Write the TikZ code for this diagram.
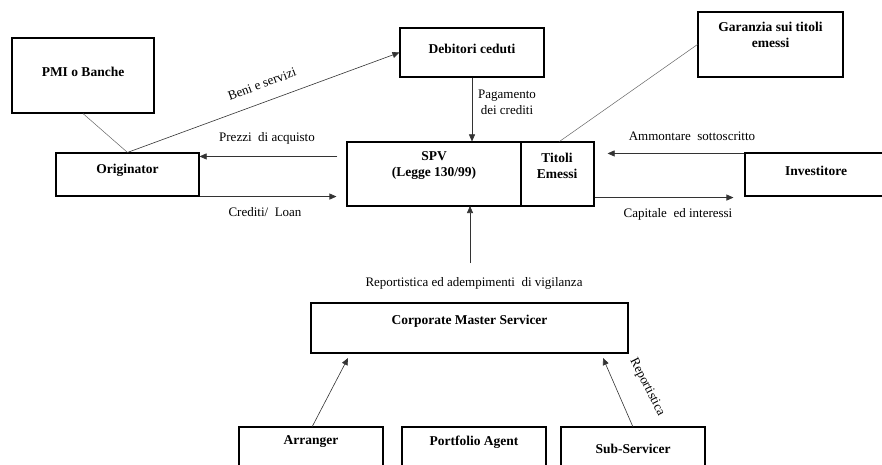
\documentclass[tikz,border=0pt]{standalone}
\usepackage{fontspec}
\setmainfont{Liberation Serif}
\usetikzlibrary{arrows.meta,calc}
\begin{document}
\begin{tikzpicture}[x=1pt,y=-1pt,
  box/.style={draw=black,line width=1.1pt,inner sep=0pt},
  bt/.style={font=\fontsize{13.5}{16}\selectfont\bfseries,align=center,inner sep=0pt},
  lt/.style={font=\fontsize{13}{16}\selectfont,align=center,inner sep=0pt},
  arr/.style={draw=black!80,line width=0.6pt,-{Triangle[length=7pt,width=6pt]}},
  ln/.style={draw=black!60,line width=0.5pt}]
\clip (0,0) rectangle (882,465);
\fill[white] (0,0) rectangle (882,465);
% boxes
\node[box,minimum width=142,minimum height=75] (pmi) at (83,75.5) {};
\node[box,minimum width=143,minimum height=43] (orig) at (127.5,174.5) {};
\node[box,minimum width=144,minimum height=49] (deb) at (472,52.5) {};
\node[box,minimum width=174,minimum height=64] (spv) at (434,174) {};
\node[box,minimum width=73,minimum height=64] (tit) at (557.5,174) {};
\node[box,minimum width=145,minimum height=65] (gar) at (770.5,44.5) {};
\node[box,minimum width=160,minimum height=43] (inv) at (825,174.5) {};
\node[box,minimum width=317,minimum height=50] (cms) at (469.5,328) {};
\node[box,minimum width=144,minimum height=63] (arr) at (311,458.5) {};
\node[box,minimum width=144,minimum height=63] (port) at (474,458.5) {};
\node[box,minimum width=144,minimum height=63] (sub) at (633,458.5) {};
% box texts
\node[bt] (tpmi) at (83,72) {PMI o Banche};
\node[bt] (torig) at (127.5,170) {Originator};
\node[bt] (tdeb) at (472,49) {Debitori ceduti};
\node[bt] (tspv) at (434,166) {SPV\\(Legge 130/99)};
\node[bt] (ttit) at (557,166) {Titoli\\Emessi};
\node[bt] (tgar) at (770.5,35) {Garanzia sui titoli\\emessi};
\node[bt] (tinv) at (816,171) {Investitore};
\node[bt] (tcms) at (469.5,321) {Corporate Master Servicer};
\node[bt] (tarr) at (311,442) {Arranger};
\node[bt] (tport) at (474,442) {Portfolio Agent};
\node[bt] (tsub) at (633,449) {Sub-Servicer};
% coordinates for free ends
\coordinate (pzA) at ($(spv.north west)+(-9,15)$);
\coordinate (crB) at ($(spv.south west)+(-10,-10)$);
\coordinate (amB) at ($(tit.north east)+(13,12)$);
\coordinate (caB) at ($(inv.south west)+(-11,1)$);
\coordinate (vg) at (470,263);
\coordinate (vgT) at (470,206);
\coordinate (arT) at (348,358);
\coordinate (arS) at (312,427);
\coordinate (suT) at (603,358);
\coordinate (suS) at (633,427);
% connectors
\draw[ln] (pmi.south) -- (orig.north);
\draw[arr] (orig.north) -- (deb.west);
\draw[arr] (pzA) -- (orig.east |- pzA);
\draw[arr] (orig.south east) -- (crB |- orig.south east);
\draw[arr] (deb.south) -- (spv.north -| deb.south);
\draw[ln] (gar.west) -- ($(tit.north)+(2,0)$);
\draw[arr] (inv.north west |- amB) -- (amB);
\draw[arr] (tit.south east |- caB) -- (caB);
\draw[arr] (vg) -- (vgT);
\draw[arr] (arS) -- (arT);
\draw[arr] (suS) -- (suT);
% labels
\node[lt,rotate=20] (lbeni) at (262,84) {Beni e servizi};
\node[lt] (lpz) at (267,138) {Prezzi\ \ di acquisto};
\node[lt] (lcr) at (265,212) {Crediti/\ \ Loan};
\node[lt] (lpag) at (507,102) {Pagamento\\dei crediti};
\node[lt] (lam) at (692,136) {Ammontare\ \ sottoscritto};
\node[lt] (lca) at (678,214) {Capitale\ \ ed interessi};
\node[lt] (lrep) at (474,283) {Reportistica ed adempimenti\ \ di vigilanza};
\node[lt,rotate=-63] (lrs) at (647,387) {Reportistica};
\end{tikzpicture}
\end{document}
